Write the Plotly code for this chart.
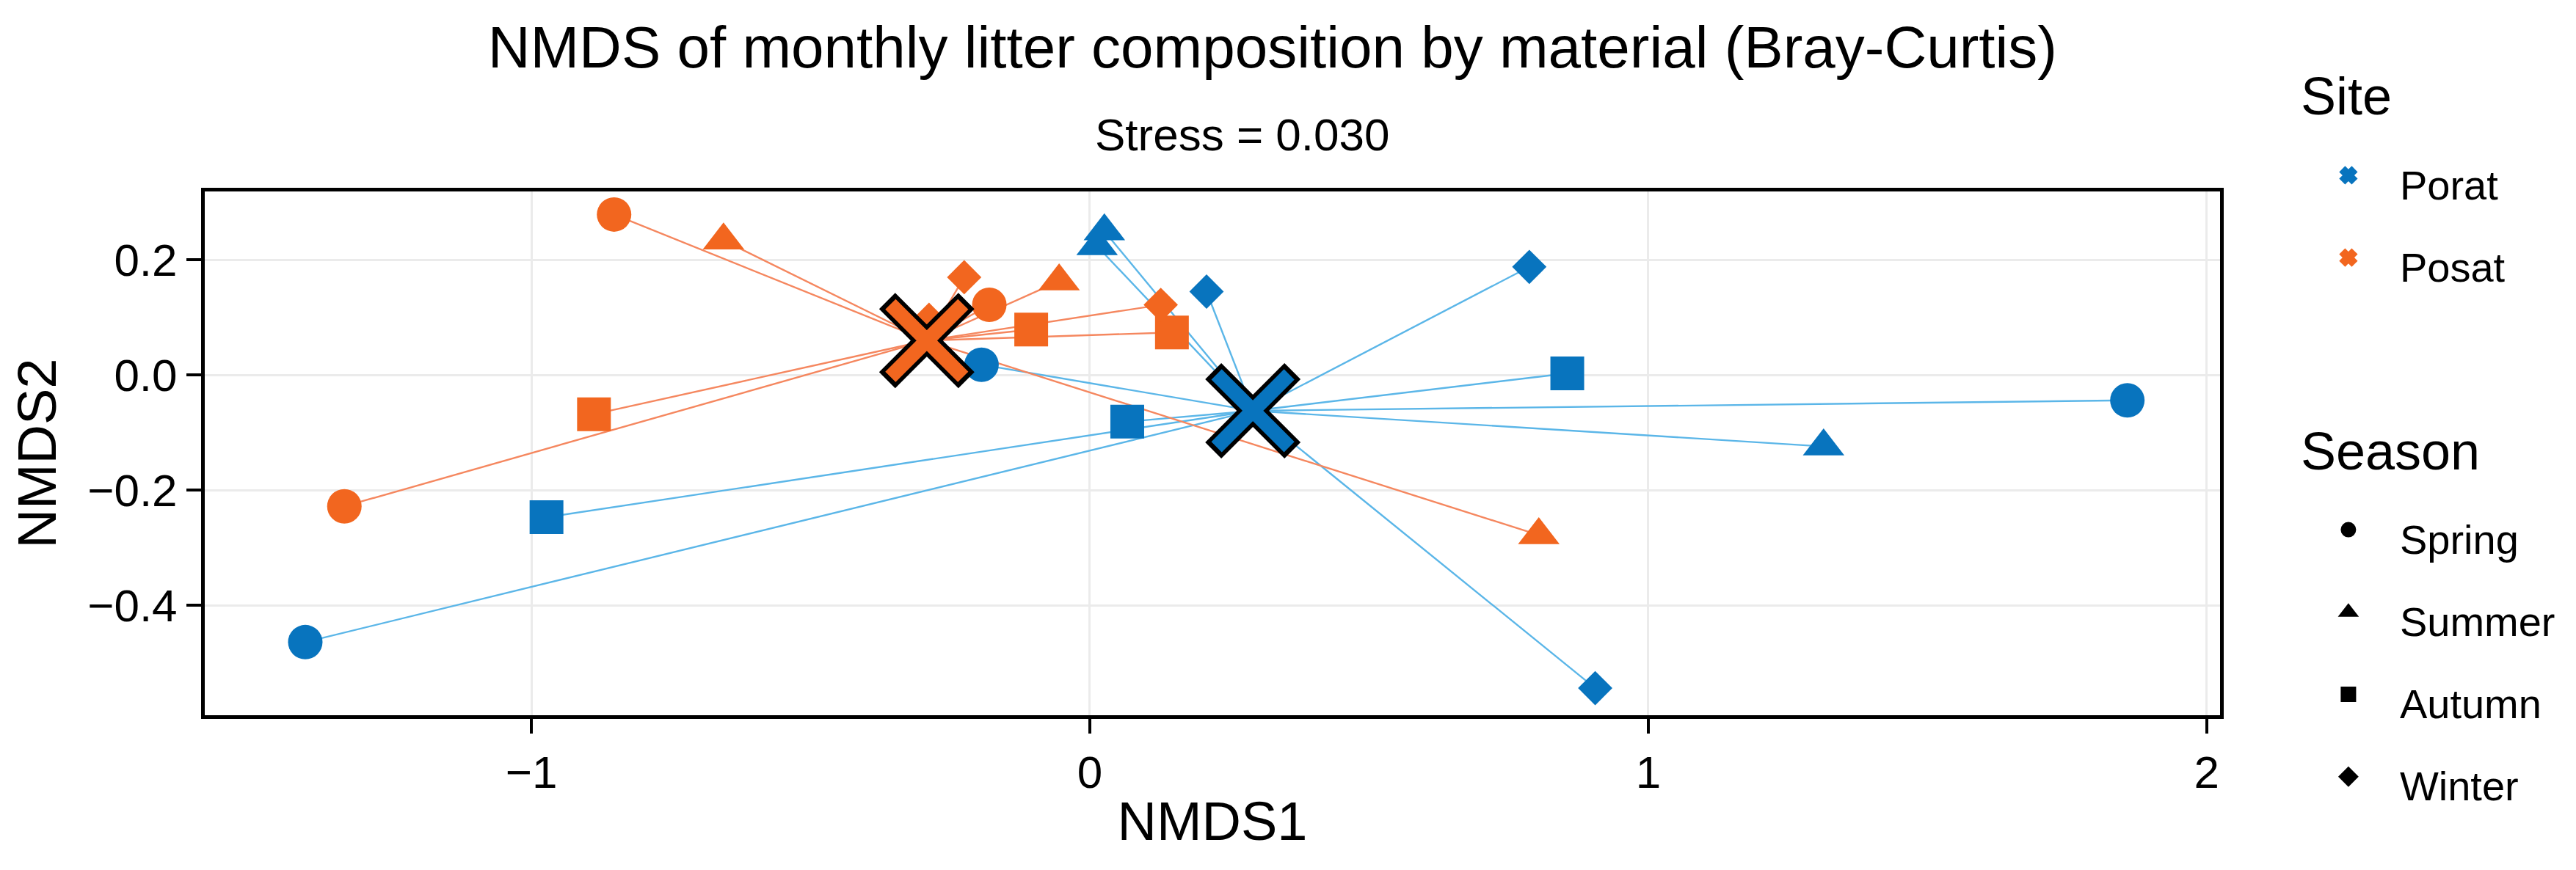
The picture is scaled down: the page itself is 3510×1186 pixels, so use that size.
import plotly.graph_objects as go

# ---------------- data ----------------
sites = ["Porat", "Posat"]
seasons = ["Spring", "Summer", "Autumn", "Winter"]

porat_spring_x = [1.858, -0.194, -1.405]
porat_spring_y = [-0.044, 0.018, -0.464]
porat_summer_x = [0.026, 0.013, 1.314]
porat_summer_y = [0.250, 0.224, -0.124]
porat_autumn_x = [0.855, 0.067, -0.973]
porat_autumn_y = [0.003, -0.081, -0.247]
porat_winter_x = [0.209, 0.787, 0.905]
porat_winter_y = [0.145, 0.188, -0.544]

posat_spring_x = [-0.852, -0.180, -1.335]
posat_spring_y = [0.279, 0.122, -0.228]
posat_summer_x = [-0.656, -0.055, 0.804]
posat_summer_y = [0.234, 0.163, -0.278]
posat_autumn_x = [-0.105, 0.147, -0.888]
posat_autumn_y = [0.079, 0.074, -0.068]
posat_winter_x = [-0.225, 0.127, -0.288]
posat_winter_y = [0.170, 0.122, 0.096]

centroid_x = [0.292, -0.292]
centroid_y = [-0.062, 0.060]

x_ticks = [-1, 0, 1, 2]
x_tick_labels = ["\u22121", "0", "1", "2"]
y_ticks = [-0.4, -0.2, 0.0, 0.2]

# ---------------- styles ----------------
FONT = "Liberation Sans, Arial, Helvetica, sans-serif"
point_col = {"Porat": "#0874BE", "Posat": "#F2661F"}
line_col = {"Porat": "#5BB6E8", "Posat": "#F5875F"}
symbols = {"Spring": "circle", "Summer": "triangle-up", "Autumn": "square", "Winter": "diamond"}
sizes = {"Spring": 47, "Summer": 49, "Autumn": 46, "Winter": 36}

data = {
    "Porat": {
        "Spring": (porat_spring_x, porat_spring_y),
        "Summer": (porat_summer_x, porat_summer_y),
        "Autumn": (porat_autumn_x, porat_autumn_y),
        "Winter": (porat_winter_x, porat_winter_y),
    },
    "Posat": {
        "Spring": (posat_spring_x, posat_spring_y),
        "Summer": (posat_summer_x, posat_summer_y),
        "Autumn": (posat_autumn_x, posat_autumn_y),
        "Winter": (posat_winter_x, posat_winter_y),
    },
}


def lg_text(t, px):
    return f"<span style='font-size:{px}px'>{t}</span>"


fig = go.Figure()

# spider lines (point -> site centroid)
for i, site in enumerate(sites):
    lx, ly = [], []
    for season in seasons:
        xs, ys = data[site][season]
        for x, y in zip(xs, ys):
            lx += [centroid_x[i], x, None]
            ly += [centroid_y[i], y, None]
    fig.add_trace(go.Scatter(x=lx, y=ly, mode="lines",
                             line=dict(color=line_col[site], width=2.4),
                             showlegend=False, hoverinfo="skip"))

# points
for site in sites:
    for season in seasons:
        xs, ys = data[site][season]
        fig.add_trace(go.Scatter(x=xs, y=ys, mode="markers",
                                 marker=dict(symbol=symbols[season], size=sizes[season],
                                             color=point_col[site], line=dict(width=0)),
                                 name=f"{site} {season}", showlegend=False))

# centroids: black outline layer + coloured layer
for i, site in enumerate(sites):
    fig.add_trace(go.Scatter(x=[centroid_x[i]], y=[centroid_y[i]], mode="markers",
                             marker=dict(symbol="x-thin", size=108,
                                         line=dict(color="black", width=31)),
                             showlegend=False, hoverinfo="skip"))
    fig.add_trace(go.Scatter(x=[centroid_x[i]], y=[centroid_y[i]], mode="markers",
                             marker=dict(symbol="x-thin", size=99, color=point_col[site],
                                         line=dict(color=point_col[site], width=20)),
                             name=site + " centroid", showlegend=False))

# legend keys: Site
for site in sites:
    fig.add_trace(go.Scatter(x=[None], y=[None], mode="markers",
                             marker=dict(symbol="x", size=16, color=point_col[site],
                                         line=dict(color=point_col[site], width=5)),
                             name=lg_text(site, 56), legendgroup="site",
                             legendgrouptitle=dict(text=lg_text("Site", 72),
                                                   font=dict(size=96, color="black")),
                             showlegend=True))

# legend keys: Season
for season in seasons:
    fig.add_trace(go.Scatter(x=[None], y=[None], mode="markers",
                             marker=dict(symbol=symbols[season], size=16, color="black",
                                         line=dict(color="black", width=5)),
                             name=lg_text(season, 56), legendgroup="season",
                             legendgrouptitle=dict(text=lg_text("Season", 72),
                                                   font=dict(size=96, color="black")),
                             showlegend=True))

fig.update_layout(
    width=3510, height=1186,
    margin=dict(l=271, r=493, t=253, b=219),
    paper_bgcolor="white", plot_bgcolor="white",
    font=dict(family=FONT, color="black", size=56),
    title=dict(text="NMDS of monthly litter composition by material (Bray-Curtis)",
               font=dict(size=80, color="black"), x=0.4917, xanchor="center",
               xref="container", y=0.953, yanchor="middle", yref="container"),
    legend=dict(x=1.0382, xanchor="left", y=1.2955, yanchor="top",
                font=dict(size=84), tracegroupgap=131, itemsizing="trace",
                itemwidth=130, maxheight=1150,
                bgcolor="rgba(0,0,0,0)", groupclick="toggleitem"),
    annotations=[dict(text="Stress = 0.030", xref="paper", yref="paper",
                      x=0.515, y=1.108, xanchor="center", yanchor="middle",
                      showarrow=False, font=dict(size=62, color="black"))],
)

fig.update_xaxes(range=[-1.585, 2.024], tickvals=x_ticks, ticktext=x_tick_labels,
                 showgrid=True, gridcolor="#EBEBEB", gridwidth=3, zeroline=False,
                 showline=True, linecolor="black", linewidth=5, mirror=True,
                 ticks="outside", ticklen=20, tickwidth=4, tickcolor="black",
                 tickfont=dict(size=62), title=dict(text="NMDS1", font=dict(size=74), standoff=8))
fig.update_yaxes(range=[-0.591, 0.319], tickvals=y_ticks, tickformat=".1f",
                 showgrid=True, gridcolor="#EBEBEB", gridwidth=3, zeroline=False,
                 showline=True, linecolor="black", linewidth=5, mirror=True,
                 ticks="outside", ticklen=20, tickwidth=4, tickcolor="black",
                 tickfont=dict(size=62), title=dict(text="NMDS2", font=dict(size=74), standoff=20))

fig.write_html("out.html")
